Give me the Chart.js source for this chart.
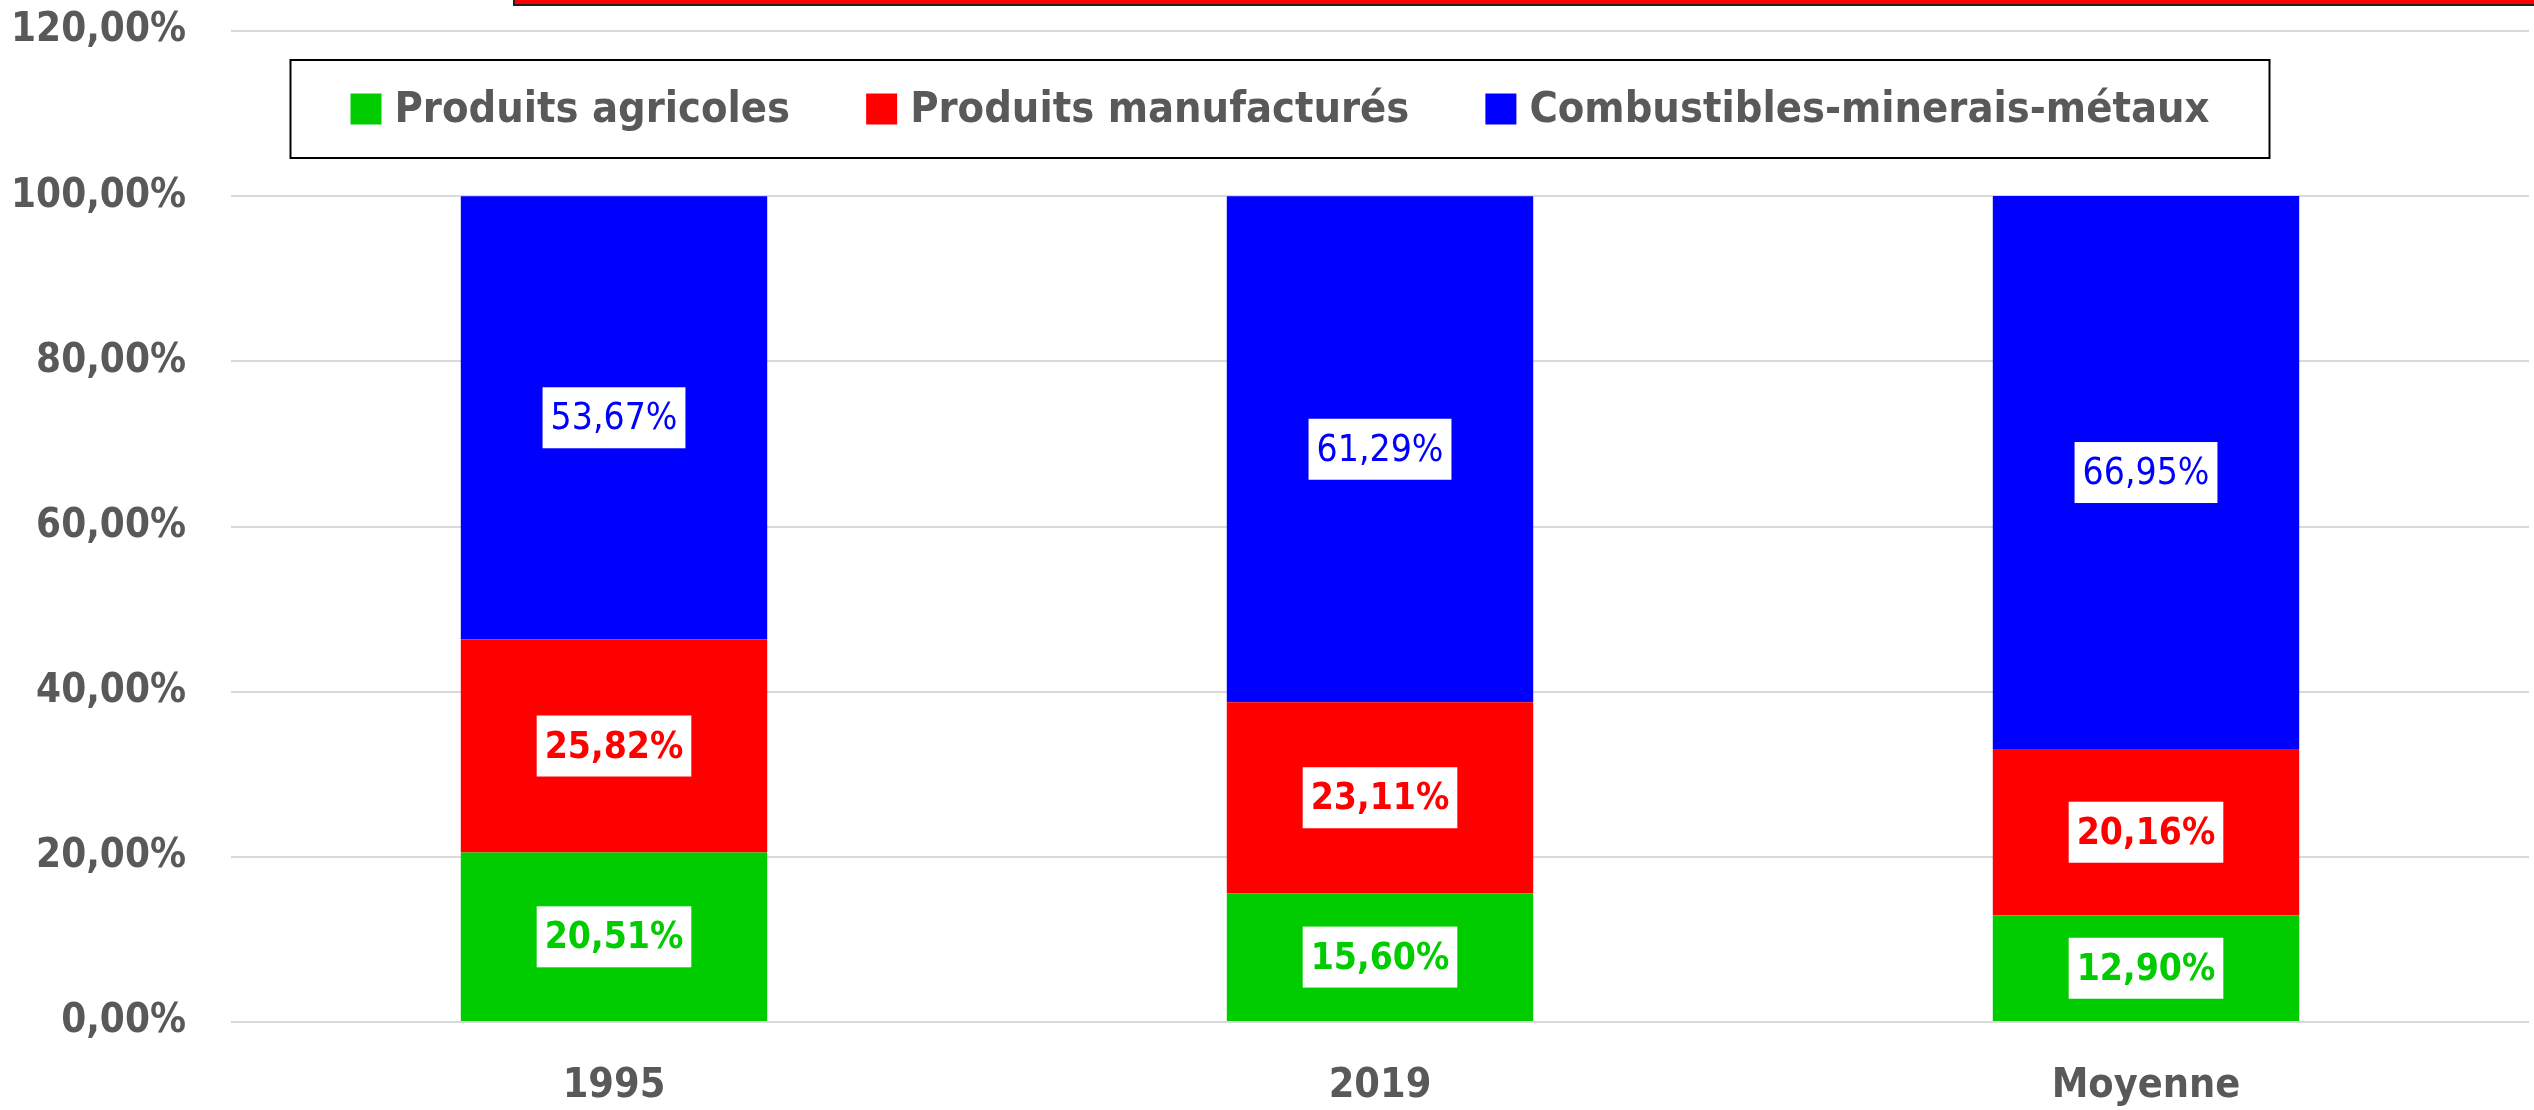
<!DOCTYPE html>
<html lang="fr">
<head>
<meta charset="utf-8">
<title>Structure des exportations</title>
<script src="https://cdn.jsdelivr.net/npm/chart.js@4.4.1/dist/chart.umd.min.js"></script>
<style>
  html, body { margin: 0; padding: 0; background: #fff; }
  #chartBox { width: 2534px; height: 1110px; }
</style>
</head>
<body>
<div id="chartBox"><canvas id="exportChart" width="2534" height="1110"></canvas></div>
<script>
// chart data
const categories = ["1995", "2019", "Moyenne"];
const seriesNames = ["Produits agricoles", "Produits manufacturés", "Combustibles-minerais-métaux"];
const agricoles = [20.51, 15.60, 12.90];
const manufactures = [25.82, 23.11, 20.16];
const combustibles = [53.67, 61.29, 66.95];
const yTickValues = [0, 20, 40, 60, 80, 100, 120];

const seriesColors = ["#00CC00", "#FF0000", "#0000FF"];
const labelBold = [true, true, false];
const TEXT_GRAY = "#595959";
const FONT = "'DejaVu Sans Condensed', 'Liberation Sans Narrow', 'Liberation Sans', sans-serif";

// french number format: 20.51 -> "20,51%"
function fmtPct(v) {
  return Number(v).toFixed(2).replace(".", ",") + "%";
}

// white boxed value labels centred in each segment
const valueLabels = {
  id: "valueLabels",
  afterDatasetsDraw(chart) {
    const ctx = chart.ctx;
    ctx.save();
    chart.data.datasets.forEach((ds, i) => {
      const meta = chart.getDatasetMeta(i);
      ctx.font = (labelBold[i] ? "bold " : "") + "37px " + FONT;
      ctx.textAlign = "center";
      ctx.textBaseline = "middle";
      meta.data.forEach((bar, j) => {
        const txt = fmtPct(ds.data[j]);
        const cy = (bar.y + bar.base) / 2;
        const w = ctx.measureText(txt).width + 16;
        const h = 61;
        ctx.fillStyle = "#fff";
        ctx.fillRect(bar.x - w / 2, cy - h / 2, w, h);
        ctx.fillStyle = seriesColors[i];
        ctx.fillText(txt, bar.x, cy + 2);
      });
    });
    ctx.restore();
  }
};

// boxed legend over the top of the plot + the cut off title frame
const boxedLegend = {
  id: "boxedLegend",
  afterDraw(chart) {
    const ctx = chart.ctx;
    ctx.save();

    // title frame, mostly outside the picture
    ctx.fillStyle = "#FF0000";
    ctx.fillRect(514, -10, 2100, 14);
    ctx.strokeStyle = "#222";
    ctx.lineWidth = 2;
    ctx.strokeRect(514, -10, 2100, 15);

    ctx.font = "bold 43px " + FONT;
    const sq = 31, gapTxt = 13, gapItem = 76;
    const widths = chart.data.datasets.map(ds => ctx.measureText(ds.label).width);
    let contentW = widths.reduce((a, b) => a + b, 0) + widths.length * (sq + gapTxt) + gapItem * (widths.length - 1);
    const cx = 1280, cy = 109;
    const boxW = contentW + 120, boxH = 98;

    ctx.fillStyle = "#fff";
    ctx.fillRect(cx - boxW / 2, cy - boxH / 2, boxW, boxH);
    ctx.strokeStyle = "#000";
    ctx.lineWidth = 2;
    ctx.strokeRect(cx - boxW / 2, cy - boxH / 2, boxW, boxH);

    let x = cx - contentW / 2;
    ctx.textBaseline = "middle";
    ctx.textAlign = "left";
    chart.data.datasets.forEach((ds, i) => {
      ctx.fillStyle = ds.backgroundColor;
      ctx.fillRect(x, cy - sq / 2, sq, sq);
      x += sq + gapTxt;
      ctx.fillStyle = TEXT_GRAY;
      ctx.fillText(ds.label, x, cy + 2);
      x += widths[i] + gapItem;
    });
    ctx.restore();
  }
};

const ctx = document.getElementById("exportChart").getContext("2d");

new Chart(ctx, {
  type: "bar",
  data: {
    labels: categories,
    datasets: [
      { label: seriesNames[0], data: agricoles, backgroundColor: seriesColors[0] },
      { label: seriesNames[1], data: manufactures, backgroundColor: seriesColors[1] },
      { label: seriesNames[2], data: combustibles, backgroundColor: seriesColors[2] }
    ]
  },
  options: {
    responsive: false,
    animation: false,
    devicePixelRatio: 1,
    layout: { padding: { top: 31, right: 5, bottom: 0, left: 0 } },
    datasets: {
      bar: { barPercentage: 0.4, categoryPercentage: 1.0, borderWidth: 0 }
    },
    plugins: {
      legend: { display: false },
      tooltip: { enabled: false }
    },
    scales: {
      x: {
        stacked: true,
        grid: { display: false, drawTicks: false },
        border: { display: false },
        ticks: {
          color: TEXT_GRAY,
          padding: 40,
          font: { family: FONT, size: 41, weight: "bold" }
        },
        afterFit(scale) {
          scale.height = 88;
          scale.paddingLeft = 0;
          scale.paddingRight = 0;
        }
      },
      y: {
        stacked: true,
        min: 0,
        max: 120,
        afterBuildTicks(scale) {
          scale.ticks = yTickValues.map(v => ({ value: v }));
        },
        grid: { color: "#D9D9D9", lineWidth: 2, drawTicks: false },
        border: { display: false },
        ticks: {
          color: TEXT_GRAY,
          padding: 45,
          font: { family: FONT, size: 40, weight: "bold" },
          callback: v => fmtPct(v)
        },
        afterFit(scale) {
          scale.width = 231;
          scale.paddingTop = 0;
          scale.paddingBottom = 0;
        }
      }
    }
  },
  plugins: [valueLabels, boxedLegend]
});
</script>
</body>
</html>
